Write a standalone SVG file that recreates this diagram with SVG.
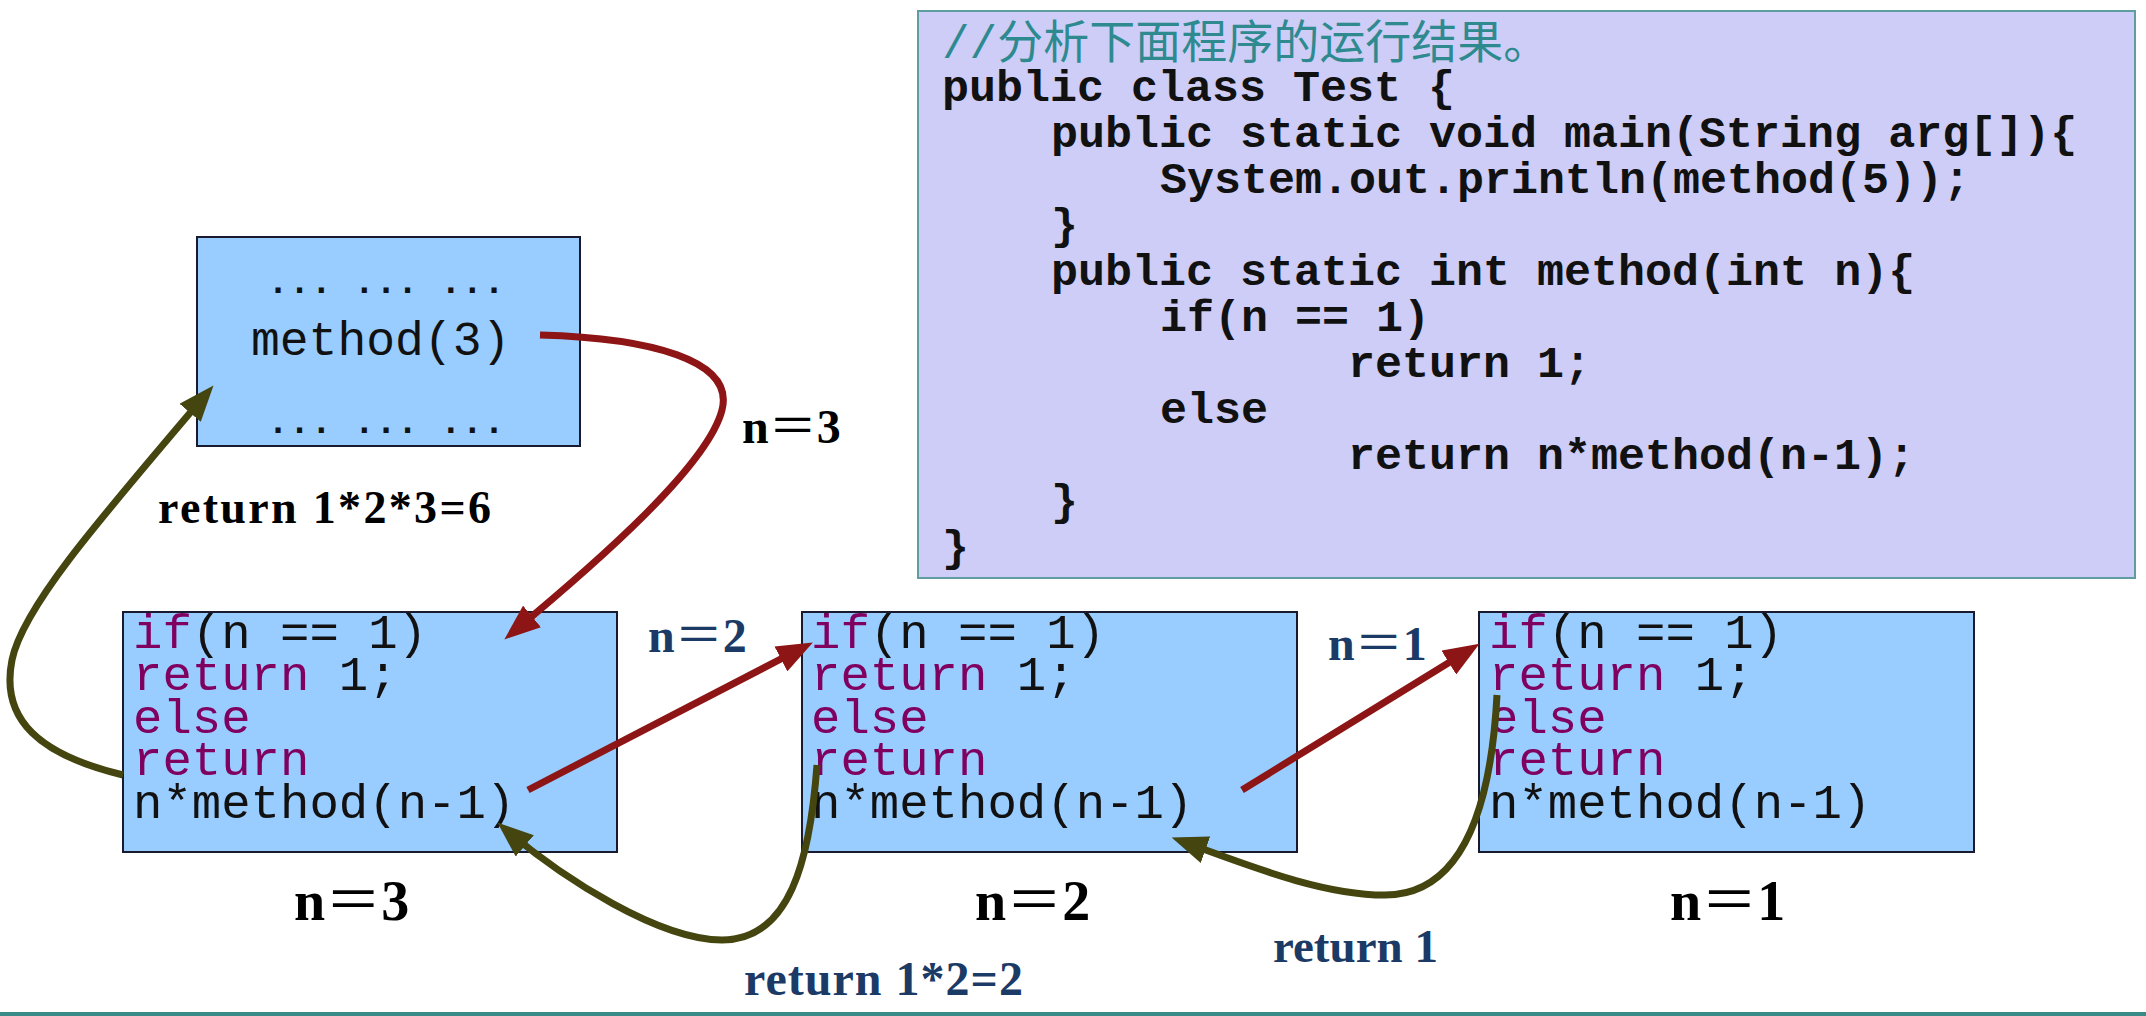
<svg xmlns="http://www.w3.org/2000/svg" width="2146" height="1016" viewBox="0 0 2146 1016">
<style>
.code{font-family:"Liberation Mono","Noto Sans CJK SC",monospace;font-weight:bold;font-size:45px;fill:#111}
.cmt{font-weight:normal;fill:#2F8A90;font-size:46px}
.codebox{fill:#CDCDF7;stroke:#5F9EA0;stroke-width:2}
.frame{fill:#99CCFF;stroke:#1A1A2E;stroke-width:2}
.src{font-family:"Liberation Mono",monospace;font-size:49px;fill:#111}
.kw{fill:#800060}
.lbl{font-family:"Liberation Serif","Noto Sans CJK SC",serif;font-weight:bold;fill:#000}
.eq{font-family:"Noto Sans CJK SC",sans-serif;font-weight:normal}
.navy{fill:#1B3A66}
.call{fill:none;stroke:#8E1515;stroke-width:7;marker-end:url(#ah-red)}
.ret{fill:none;stroke:#45450F;stroke-width:7;marker-end:url(#ah-olive)}
</style>
<defs>
<marker id="ah-red" viewBox="0 0 36 28" refX="26" refY="14" markerWidth="36" markerHeight="28" markerUnits="userSpaceOnUse" orient="auto">
<path d="M0,0 L36,14 L0,28 Z" fill="#8E1515"/>
</marker>
<marker id="ah-olive" viewBox="0 0 36 28" refX="26" refY="14" markerWidth="36" markerHeight="28" markerUnits="userSpaceOnUse" orient="auto">
<path d="M0,0 L36,14 L0,28 Z" fill="#45450F"/>
</marker>
</defs>
<rect x="0" y="0" width="2146" height="1016" fill="#FFFFFF"/>

<g id="code-box">
<rect class="codebox" x="918" y="11" width="1217" height="567"/>
<text class="code"><tspan class="cmt" x="942" y="58">//分析下面程序的运行结果。</tspan><tspan x="942" y="101">public class Test {</tspan><tspan x="1051" y="147">public static void main(String arg[]){</tspan><tspan x="1160" y="193">System.out.println(method(5));</tspan><tspan x="1051" y="239">}</tspan><tspan x="1051" y="285">public static int method(int n){</tspan><tspan x="1160" y="331">if(n == 1)</tspan><tspan x="1348" y="377">return 1;</tspan><tspan x="1160" y="423">else</tspan><tspan x="1348" y="469">return n*method(n-1);</tspan><tspan x="1051" y="515">}</tspan><tspan x="942" y="561">}</tspan></text>
</g>

<g id="caller-box">
<rect class="frame" x="197" y="237" width="383" height="209"/>
<text class="src" x="386" y="293" text-anchor="middle" style="font-size:36px;font-weight:bold">... ... ...</text>
<text class="src" x="251" y="355" style="font-size:48px">method(3)</text>
<text class="src" x="386" y="433" text-anchor="middle" style="font-size:36px;font-weight:bold">... ... ...</text>
</g>

<g id="frame-n3">
<rect class="frame" x="123" y="612" width="494" height="240"/>
<text class="src"><tspan x="133" y="648"><tspan class="kw">if</tspan>(n == 1)</tspan><tspan x="133" y="690"><tspan class="kw">return</tspan> 1;</tspan><tspan class="kw" x="133" y="733">else</tspan><tspan class="kw" x="133" y="775">return</tspan><tspan x="133" y="818">n*method(n-1)</tspan></text>
</g>

<g id="frame-n2">
<rect class="frame" x="802" y="612" width="495" height="240"/>
<text class="src"><tspan x="811" y="648"><tspan class="kw">if</tspan>(n == 1)</tspan><tspan x="811" y="690"><tspan class="kw">return</tspan> 1;</tspan><tspan class="kw" x="811" y="733">else</tspan><tspan class="kw" x="811" y="775">return</tspan><tspan x="811" y="818">n*method(n-1)</tspan></text>
</g>

<g id="frame-n1">
<rect class="frame" x="1479" y="612" width="495" height="240"/>
<text class="src"><tspan x="1489" y="648"><tspan class="kw">if</tspan>(n == 1)</tspan><tspan x="1489" y="690"><tspan class="kw">return</tspan> 1;</tspan><tspan class="kw" x="1489" y="733">else</tspan><tspan class="kw" x="1489" y="775">return</tspan><tspan x="1489" y="818">n*method(n-1)</tspan></text>
</g>

<g id="connectors">
<path class="call" d="M540,335 C650,338 735,360 722,410 C708,465 600,560 512,633"/>
<path class="call" d="M528,790 L804,647"/>
<path class="call" d="M1242,790 L1471,649"/>
<path class="ret" d="M123,775 C40,755 0,720 12,660 C22,610 90,530 207,393"/>
<path class="ret" d="M817,765 C810,860 790,940 722,940 C660,940 565,880 505,829"/>
<path class="ret" d="M1497,695 C1492,790 1470,895 1385,895 C1320,895 1245,864 1181,841"/>
</g>

<g id="labels">
<text class="lbl" x="742" y="443" style="font-size:48px">n<tspan class="eq">＝</tspan>3</text>
<text class="lbl" x="158" y="523" style="font-size:46px" textLength="333">return 1*2*3=6</text>
<text class="lbl navy" x="648" y="652" style="font-size:48px">n<tspan class="eq">＝</tspan>2</text>
<text class="lbl navy" x="1328" y="660" style="font-size:48px">n<tspan class="eq">＝</tspan>1</text>
<text class="lbl" x="294" y="920" style="font-size:56px">n<tspan class="eq">＝</tspan>3</text>
<text class="lbl" x="975" y="920" style="font-size:56px">n<tspan class="eq">＝</tspan>2</text>
<text class="lbl" x="1670" y="920" style="font-size:56px">n<tspan class="eq">＝</tspan>1</text>
<text class="lbl navy" x="1273" y="962" style="font-size:47px">return 1</text>
<text class="lbl navy" x="744" y="995" style="font-size:48px" textLength="279">return 1*2=2</text>
</g>

<rect x="0" y="1012" width="2146" height="4" fill="#3A8A8A"/>
</svg>
